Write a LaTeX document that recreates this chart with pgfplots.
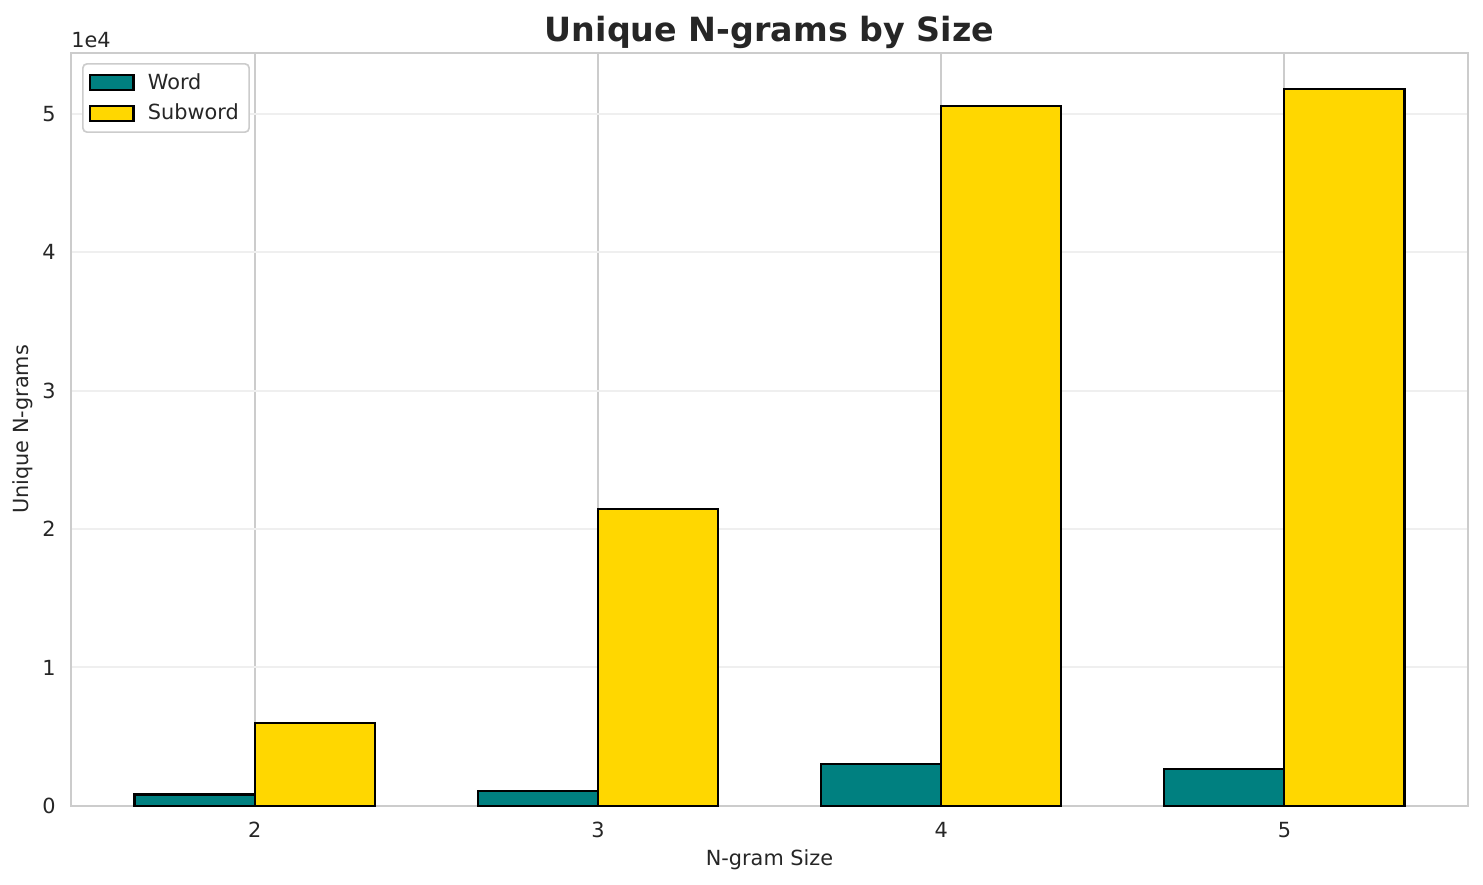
\documentclass[border=0pt]{standalone}
\usepackage{fontspec}
\setmainfont{DejaVu Sans}
\usepackage{pgfplots}
\pgfplotsset{compat=1.18}

\definecolor{wordc}{HTML}{008080}
\definecolor{subc}{HTML}{FFD700}
\definecolor{spine}{HTML}{CCCCCC}
\definecolor{ygrid}{HTML}{EFEFEF}
\definecolor{txt}{HTML}{262626}

\begin{document}
\begin{tikzpicture}
\begin{axis}[
  name=ax,
  scale only axis,
  width=670.6pt, height=361.4pt,
  clip=false,
  xmin=1.465, xmax=5.535,
  ymin=0, ymax=54400,
  xtick={2,3,4,5},
  xticklabels={2,3,4,5},
  ytick={0,10000,20000,30000,40000,50000},
  yticklabels={0,1,2,3,4,5},
  scaled y ticks=false,
  major tick length=0pt,
  axis line style={spine, line width=0.9pt},
  xmajorgrids, ymajorgrids,
  x grid style={spine, line width=0.95pt},
  y grid style={ygrid, line width=0.95pt},
  tick label style={font=\fontsize{10}{12}\selectfont, text=txt},
  xticklabel style={anchor=base, yshift=-15.4pt},
  yticklabel style={anchor=east, inner sep=0pt, xshift=-7.2pt},
  xlabel={N-gram Size},
  ylabel={Unique N-grams},
  label style={font=\fontsize{10}{12}\selectfont, text=txt},
  xlabel style={at={(axis description cs:0.5,-0.0797)}, anchor=base},
  ylabel style={at={(axis description cs:-0.0301,0.5)}, anchor=base},
  title={Unique N-grams by Size},
  every axis title shift=0pt,
  title style={font=\fontsize{16}{19}\selectfont\bfseries, text=txt,
    at={(axis description cs:0.5,1.0147)}, anchor=base},
  ybar, bar width=0.35,
  legend image code/.code={
    \draw[#1, sharp corners] (0pt,-3.6pt) rectangle (20.8pt,3.6pt);
    \path (25.2pt,0pt);},
  legend style={at={(axis description cs:0.0079,0.9867)}, anchor=north west,
    draw=spine, line width=0.8pt, rounded corners=2pt,
    font=\fontsize{10}{12}\selectfont, text=txt,
    inner xsep=3pt, inner ysep=3pt, row sep=2.6pt,
    nodes={inner xsep=2pt, inner ysep=1.5pt}},
  legend cell align=left,
]
\addplot[fill=wordc, draw=black, line width=1pt, bar shift=-0.175] coordinates {
  (2,820) (3,1055) (4,3000) (5,2645)
};
\addlegendentry{Word}
\addplot[fill=subc, draw=black, line width=1pt, bar shift=0.175] coordinates {
  (2,5970) (3,21460) (4,50580) (5,51810)
};
\addlegendentry{Subword}
\node[anchor=base west, inner sep=0pt, font=\fontsize{10}{12}\selectfont, text=txt]
  at (axis description cs:0,1.007) {1e4};
\end{axis}
\pgfresetboundingbox
\path ([xshift=-34.08pt, yshift=-37.92pt]ax.south west) rectangle ([xshift=7.2pt, yshift=25.44pt]ax.north east);
\end{tikzpicture}
\end{document}
